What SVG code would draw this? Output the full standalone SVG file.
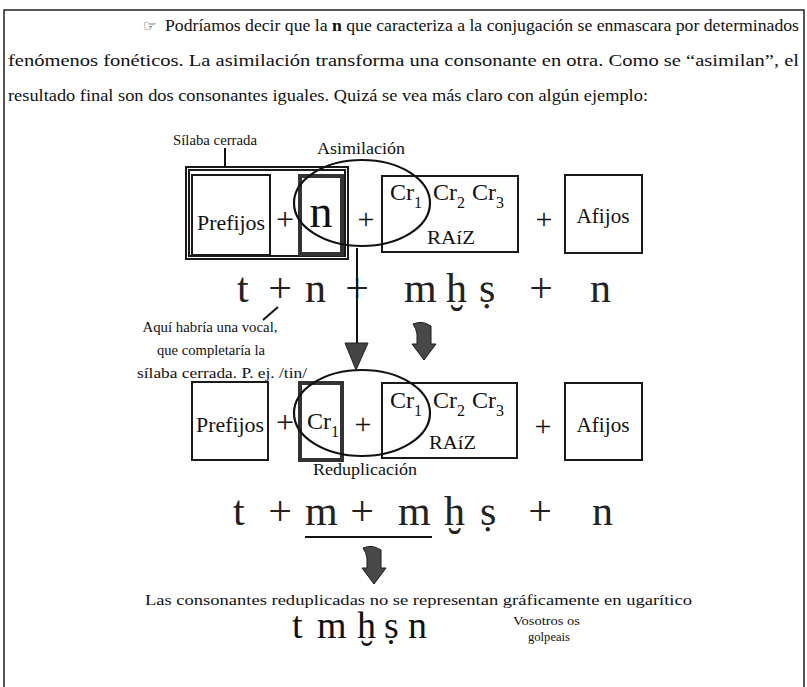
<svg xmlns="http://www.w3.org/2000/svg" width="807" height="687" viewBox="0 0 807 687">
<style>
text{font-family:"Liberation Serif","DejaVu Serif",serif;fill:#111}
.p{font-size:16.5px}
.lab{font-size:15px}
.box{fill:none;stroke:#1a1a1a;stroke-width:2}
.thick{fill:none;stroke:#333;stroke-width:4}
.big{font-size:42px;fill:#222}
.mid{font-size:21px}
.cr{font-size:24px}
.sub{font-size:16px}
.ell{fill:none;stroke:#111;stroke-width:2.2}
.ln{stroke:#111;stroke-width:2;fill:none}
.blk{fill:#484848;stroke:#1a1a1a;stroke-width:1}
</style>
<defs>
<path id="barrow" d="M413 324 Q422 320 431 326 L431 344 L436 344 L424 360 L412 344 L417 344 L417 334 Q416 328 413 324 Z"/>
</defs>
<rect x="0" y="0" width="807" height="687" fill="#fff"/>
<g id="frame"><path d="M4 700 L4 10 L804 10 L804 700" fill="none" stroke="#222" stroke-width="1.5"/></g>
<g id="paragraph">
<text x="143" y="31" style="font-family:'DejaVu Sans',sans-serif;font-size:15px">☞</text>
<text class="p" x="165" y="31" textLength="634" lengthAdjust="spacingAndGlyphs">Podríamos decir que la <tspan font-weight="bold">n</tspan> que caracteriza a la conjugación se enmascara por determinados</text>
<text class="p" x="8" y="66" textLength="791" lengthAdjust="spacingAndGlyphs">fenómenos fonéticos. La asimilación transforma una consonante en otra. Como se “asimilan”, el</text>
<text class="p" x="8" y="101" textLength="640" lengthAdjust="spacingAndGlyphs">resultado final son dos consonantes iguales. Quizá se vea más claro con algún ejemplo:</text>
</g>
<g id="silaba-cerrada">
<text class="lab" x="173" y="145" textLength="84" lengthAdjust="spacingAndGlyphs">Sílaba cerrada</text>
<rect class="box" x="186" y="167" width="162" height="92" stroke-width="1.5"/>
<rect class="box" x="189" y="170" width="156" height="86" stroke-width="1.5"/>
</g>
<g id="row1">
<rect class="box" x="192" y="175" width="78" height="80" stroke-width="2.5"/>
<text class="mid" x="231" y="230" text-anchor="middle" textLength="68" lengthAdjust="spacingAndGlyphs">Prefijos</text>
<text x="285" y="230" text-anchor="middle" font-size="32">+</text>
<rect class="thick" x="300" y="176" width="42" height="78"/>
<text x="321" y="227" text-anchor="middle" font-size="46">n</text>
<text x="366" y="229" text-anchor="middle" font-size="30">+</text>
<rect class="box" x="382" y="176" width="136" height="76"/>
<text class="cr" x="390" y="200">Cr<tspan class="sub" dy="8">1</tspan></text>
<text class="cr" x="433" y="200">Cr<tspan class="sub" dy="8">2</tspan></text>
<text class="cr" x="472" y="200">Cr<tspan class="sub" dy="8">3</tspan></text>
<text x="427" y="244" font-size="19" textLength="48" lengthAdjust="spacingAndGlyphs">RAíZ</text>
<text x="544" y="229" text-anchor="middle" font-size="30">+</text>
<rect class="box" x="565" y="175" width="77" height="78"/>
<text x="603" y="223" text-anchor="middle" font-size="20" textLength="53" lengthAdjust="spacingAndGlyphs">Afijos</text>
<ellipse class="ell" cx="362" cy="203" rx="68" ry="43"/>
<text x="317" y="154" font-size="16" textLength="88" lengthAdjust="spacingAndGlyphs">Asimilación</text>
</g>
<g id="row1-text">
<text class="big" x="237" y="302">t</text>
<text class="big" x="280" y="302" text-anchor="middle">+</text>
<text class="big" x="305" y="302">n</text>
<text class="big" x="357" y="302" text-anchor="middle">+</text>
<text class="big" x="404" y="302">m</text>
<text class="big" x="446" y="302">ḫ</text>
<text class="big" x="479" y="302">ṣ</text>
<text class="big" x="541" y="302" text-anchor="middle">+</text>
<text class="big" x="590" y="302">n</text>
</g>
<g id="note">
<text class="lab" x="210" y="332" text-anchor="middle" textLength="135" lengthAdjust="spacingAndGlyphs">Aquí habría una vocal,</text>
<text class="lab" x="211" y="355" text-anchor="middle" textLength="108" lengthAdjust="spacingAndGlyphs">que completaría la</text>
<text class="lab" x="222" y="378" text-anchor="middle" textLength="170" lengthAdjust="spacingAndGlyphs">sílaba cerrada. P. ej. /tin/</text>
</g>
<g id="row2">
<rect class="box" x="192" y="382" width="76" height="78" stroke-width="2.5"/>
<text class="mid" x="230" y="432" text-anchor="middle" textLength="68" lengthAdjust="spacingAndGlyphs">Prefijos</text>
<text x="285" y="433" text-anchor="middle" font-size="32">+</text>
<rect class="thick" x="300" y="383" width="42" height="77"/>
<text class="cr" x="307" y="429">Cr<tspan class="sub" dy="8">1</tspan></text>
<text x="363" y="434" text-anchor="middle" font-size="30">+</text>
<rect class="box" x="382" y="383" width="135" height="75"/>
<text class="cr" x="390" y="408">Cr<tspan class="sub" dy="8">1</tspan></text>
<text class="cr" x="433" y="408">Cr<tspan class="sub" dy="8">2</tspan></text>
<text class="cr" x="472" y="408">Cr<tspan class="sub" dy="8">3</tspan></text>
<text x="429" y="449" font-size="19" textLength="47" lengthAdjust="spacingAndGlyphs">RAíZ</text>
<text x="543" y="436" text-anchor="middle" font-size="30">+</text>
<rect class="box" x="565" y="383" width="77" height="77"/>
<text x="603" y="432" text-anchor="middle" font-size="20" textLength="53" lengthAdjust="spacingAndGlyphs">Afijos</text>
<ellipse class="ell" cx="362" cy="413" rx="68" ry="43"/>
<text x="313" y="475" font-size="16" textLength="104" lengthAdjust="spacingAndGlyphs">Reduplicación</text>
</g>
<g id="row2-text">
<text class="big" x="233" y="525">t</text>
<text class="big" x="280" y="525" text-anchor="middle">+</text>
<text class="big" x="305" y="525">m</text>
<text class="big" x="362" y="525" text-anchor="middle">+</text>
<text class="big" x="398" y="525">m</text>
<text class="big" x="444" y="525">ḫ</text>
<text class="big" x="480" y="525">ṣ</text>
<text class="big" x="540" y="525" text-anchor="middle">+</text>
<text class="big" x="592" y="525">n</text>
<line class="ln" x1="305" y1="537" x2="432" y2="537"/>
</g>
<g id="result">
<text x="145" y="605" font-size="15.5" textLength="547" lengthAdjust="spacingAndGlyphs">Las consonantes reduplicadas no se representan gráficamente en ugarítico</text>
<text x="292" y="638" font-size="38" fill="#222">t</text>
<text x="317" y="638" font-size="38" fill="#222">m</text>
<text x="357" y="638" font-size="38" fill="#222">ḫ</text>
<text x="384" y="638" font-size="38" fill="#222">ṣ</text>
<text x="408" y="638" font-size="38" fill="#222">n</text>
<text x="513" y="625" font-size="13.5" textLength="67" lengthAdjust="spacingAndGlyphs">Vosotros os</text>
<text x="528" y="641" font-size="13.5" textLength="42" lengthAdjust="spacingAndGlyphs">golpeais</text>
</g>
<g id="connectors">
<line class="ln" x1="225" y1="148" x2="225" y2="167"/>
<line class="ln" x1="357" y1="248" x2="357" y2="344"/>
<polygon points="345,343 368,343 356,370" fill="#444" stroke="#222" stroke-width="1"/>
<line class="ln" x1="263" y1="320" x2="278" y2="307" stroke-width="1.5"/>
<use href="#barrow" class="blk"/>
<use href="#barrow" class="blk" transform="translate(-50,224)"/>
</g>
</svg>
